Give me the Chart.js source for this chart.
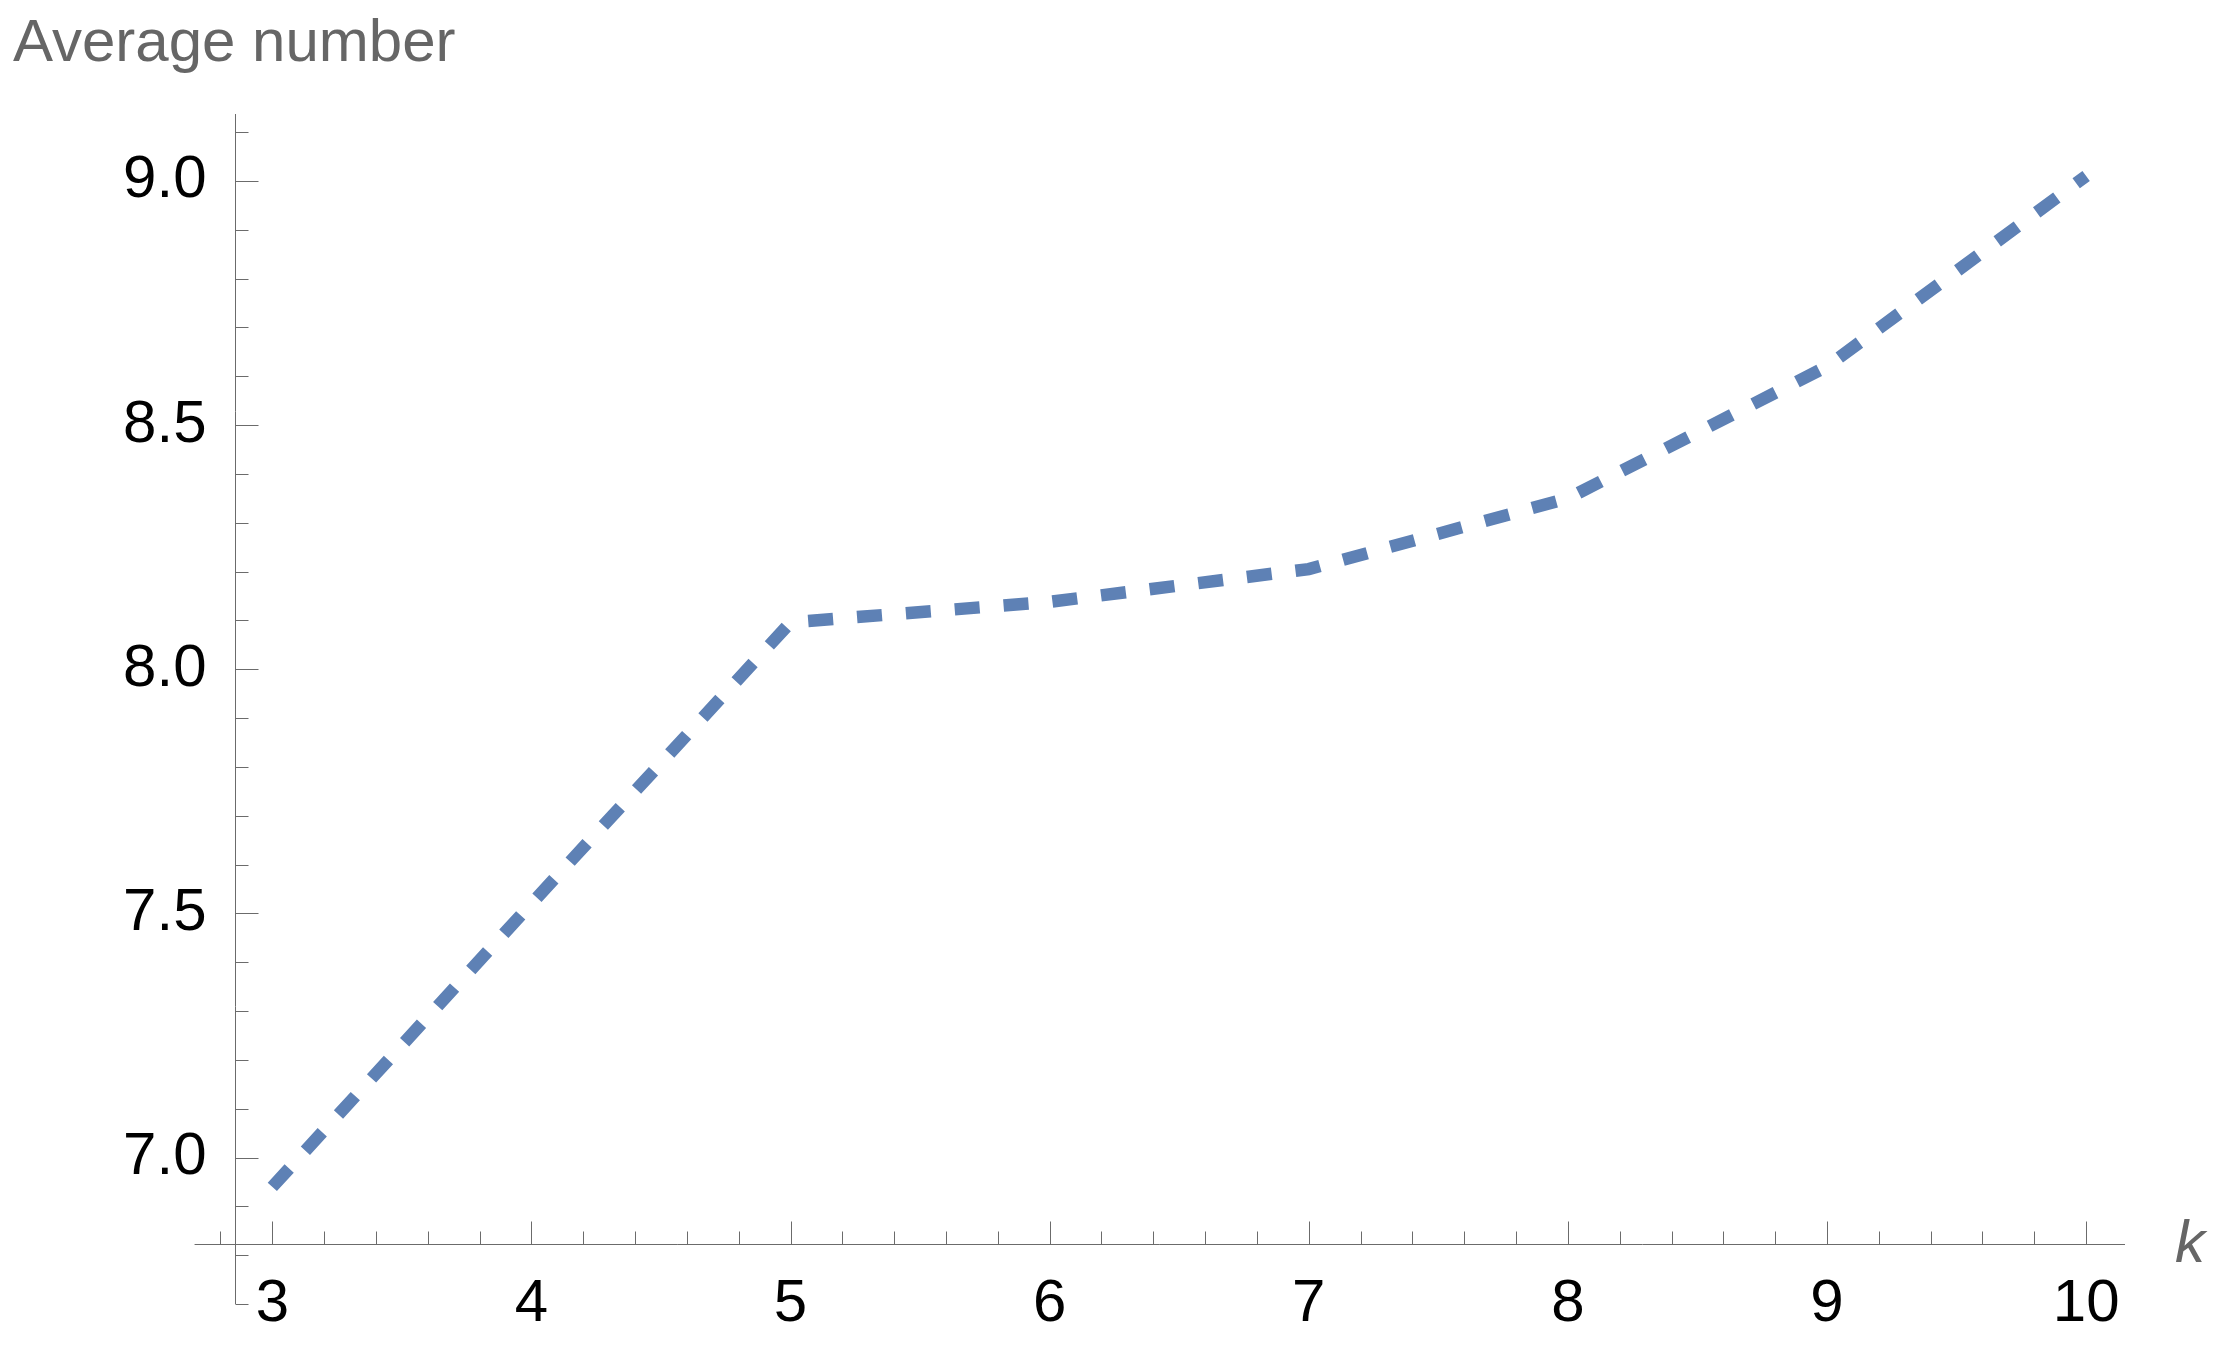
<!DOCTYPE html>
<html>
<head>
<meta charset="utf-8">
<script src="https://cdn.jsdelivr.net/npm/chart.js@4"></script>
<style>
  html, body { margin: 0; padding: 0; background: #fff; }
</style>
</head>
<body>
<canvas id="chart" width="2219" height="1346"></canvas>
<script>
'use strict'

// data
const kValues = [3, 4, 5, 6, 7, 8, 9, 10]
const averageNumbers = [6.94, 7.52, 8.096, 8.138, 8.205, 8.35, 8.62, 9.01]

// labelled ticks
const xTickLabels = [3, 4, 5, 6, 7, 8, 9, 10]
const yTickLabels = [7.0, 7.5, 8.0, 8.5, 9.0]

// axis extents and where the axes cross
const xRange = [2.7, 10.15]
const yRange = [6.7, 9.137]
const yAxisAtX = 2.856
const xAxisAtY = 6.823

const axisColor = '#6b6b6b'
const lineColor = '#5e81b5'
const fontFamily = '"Liberation Sans", Arial, sans-serif'

function minorTicks (from, to, step) {
  const list = []
  const n = Math.round((to - from) / step)
  for (let i = 0; i <= n; i++) {
    list.push(Math.round((from + i * step) * 1000) / 1000)
  }
  return list
}

const xMinorTicks = minorTicks(2.8, 10, 0.2)
const yMinorTicks = minorTicks(6.7, 9.1, 0.1)

// mathematica style axes: crossing lines with inward ticks
const axesPlugin = {
  id: 'crossAxes',
  beforeDatasetsDraw (chart) {
    const { ctx, scales } = chart
    const xScale = scales.x
    const yScale = scales.y
    const axisY = Math.round(yScale.getPixelForValue(xAxisAtY)) + 0.5
    const axisX = Math.round(xScale.getPixelForValue(yAxisAtX)) + 0.5
    ctx.save()
    ctx.strokeStyle = axisColor
    ctx.lineWidth = 1
    ctx.beginPath()
    ctx.moveTo(xScale.getPixelForValue(xRange[0]), axisY)
    ctx.lineTo(xScale.getPixelForValue(xRange[1]), axisY)
    ctx.moveTo(axisX, yScale.getPixelForValue(yRange[1]))
    ctx.lineTo(axisX, yScale.getPixelForValue(yRange[0]))
    xMinorTicks.forEach(v => {
      const px = Math.round(xScale.getPixelForValue(v)) + 0.5
      const len = xTickLabels.includes(v) ? 23 : 13
      ctx.moveTo(px, axisY)
      ctx.lineTo(px, axisY - len)
    })
    yMinorTicks.forEach(v => {
      const py = Math.round(yScale.getPixelForValue(v)) + 0.5
      const len = yTickLabels.includes(v) ? 23 : 13
      ctx.moveTo(axisX, py)
      ctx.lineTo(axisX + len, py)
    })
    ctx.stroke()
    // axis label k
    ctx.fillStyle = '#666666'
    ctx.font = 'italic 60px ' + fontFamily
    ctx.textAlign = 'left'
    ctx.textBaseline = 'alphabetic'
    ctx.fillText('k', xScale.getPixelForValue(xRange[1]) + 50, axisY + 17)
    ctx.restore()
  }
}

const ctx = document.getElementById('chart').getContext('2d')
new Chart(ctx, {
  type: 'line',
  data: {
    datasets: [{
      data: kValues.map((k, i) => ({ x: k, y: averageNumbers[i] })),
      borderColor: lineColor,
      borderWidth: 12.5,
      borderDash: [25, 24],
      borderCapStyle: 'butt',
      borderJoinStyle: 'miter',
      pointRadius: 0,
      tension: 0,
      fill: false
    }]
  },
  options: {
    responsive: false,
    animation: false,
    layout: { padding: { left: 13, right: 94, top: 0, bottom: 0 } },
    plugins: {
      legend: { display: false },
      tooltip: { enabled: false },
      title: {
        display: true,
        text: 'Average number',
        align: 'start',
        color: '#666666',
        font: { family: fontFamily, size: 60, weight: 'normal', lineHeight: 1.2 },
        padding: { top: 8, bottom: 34 }
      }
    },
    scales: {
      x: {
        type: 'linear',
        min: yAxisAtX,
        max: xRange[1],
        grid: { display: false },
        border: { display: false },
        afterFit: scale => { scale.height = 102 },
        afterBuildTicks: scale => { scale.ticks = xTickLabels.map(v => ({ value: v })) },
        ticks: {
          color: '#000000',
          padding: 22.5,
          maxRotation: 0,
          font: { family: fontFamily, size: 60, lineHeight: 1 },
          callback: v => String(v)
        }
      },
      y: {
        type: 'linear',
        min: xAxisAtY,
        max: yRange[1],
        grid: { display: false },
        border: { display: false },
        afterFit: scale => { scale.width = 222 },
        afterBuildTicks: scale => { scale.ticks = yTickLabels.map(v => ({ value: v })) },
        ticks: {
          color: '#000000',
          padding: 20.5,
          font: { family: fontFamily, size: 60, lineHeight: 1 },
          callback: v => Number(v).toFixed(1)
        }
      }
    }
  },
  plugins: [axesPlugin]
})
</script>
</body>
</html>
